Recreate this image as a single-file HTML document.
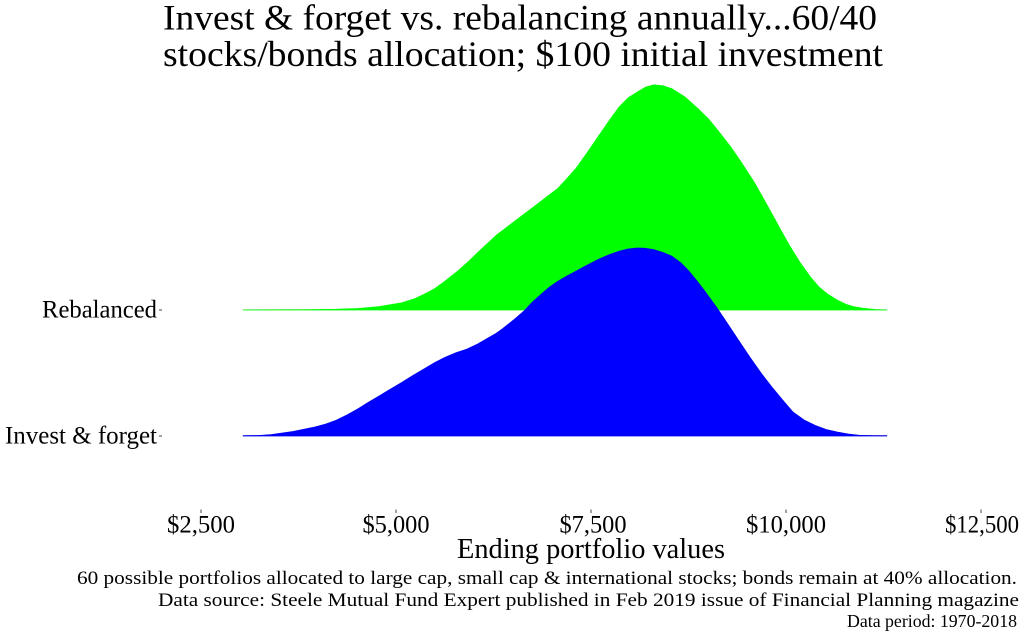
<!DOCTYPE html>
<html>
<head>
<meta charset="utf-8">
<style>
  html, body { margin:0; padding:0; background:#ffffff; }
  svg { display:block; }
  text { font-family: "Liberation Serif", "Times New Roman", serif; fill:#000; }
</style>
</head>
<body>
<svg width="1024" height="640" viewBox="0 0 1024 640" xmlns="http://www.w3.org/2000/svg">
  <rect x="0" y="0" width="1024" height="640" fill="#ffffff"/>

  <!-- Title -->
  <text x="163" y="29.5" font-size="36" textLength="714" lengthAdjust="spacingAndGlyphs">Invest &amp; forget vs. rebalancing annually...60/40</text>
  <text x="163" y="66" font-size="36" textLength="720" lengthAdjust="spacingAndGlyphs">stocks/bonds allocation; $100 initial investment</text>

  <!-- Rebalanced (green) ridge -->
  <line x1="243" y1="309.5" x2="887" y2="309.5" stroke="#e0e0e0" stroke-width="1"/>
  <polygon fill="#00ff00" stroke="#00ff00" stroke-width="0.8" stroke-linejoin="round"
    points="243,310 300,309.8 336,309.3 358,308.5 380,306.5 402,302.8 414,299 424,294.4 435,288.5 445,281.2 456,272.5 467,262.9 482,248.5 497,234.7 515,221 532,208.2 546,197.5 558,188.3 567,178.5 576,168.4 587,153 598,136.9 609,121 619,107.1 628,98 637,92.2 646,87 654,84.9 663,85.8 672,88.8 685,97 698,108.7 709,119.5 719,131.9 730,146 741,161.8 754,182 767,204.9 778,225 789,244.7 800,262.5 811,277.8 819,287 828,294.4 837,300 846,304.4 854,306.8 863,308.3 875,309.5 887,310"/>

  <!-- Invest & forget (blue) ridge -->
  <line x1="243" y1="435.5" x2="887" y2="435.5" stroke="#5555dd" stroke-width="1"/>
  <polygon fill="#0000ff" stroke="#0000f0" stroke-width="0.8" stroke-linejoin="round"
    points="243,436 257,435.6 271,434.7 293,431.5 315,427 326,424 336,420.4 347,415 358,408.8 369,402 380,395.5 391,388.8 402,382.3 413,375.5 424,369 435,362.5 445,357.4 456,352.8 467,349.1 478,343.8 489,337.5 496,333.5 502,329.2 513,320.5 524,311 532,302.5 541,294.4 549,287.5 558,281.2 567,276 576,271.2 587,265.2 598,259.6 609,254.8 619,251.3 628,249 637,248 645,248.3 654,249.7 663,252.5 672,256.3 681,263 689,271.2 697,281 706,292.8 717,308 728,324.3 739,341 750,357.4 761,373 772,387.3 783,400.5 793,412.1 804,420 815,425.4 826,429.5 837,432 848,434 859,435.3 873,435.9 887,436"/>

  <!-- Y axis labels and ticks -->
  <text x="157" y="317.5" font-size="25" text-anchor="end" textLength="115" lengthAdjust="spacingAndGlyphs">Rebalanced</text>
  <text x="157" y="443.5" font-size="25" text-anchor="end" textLength="152" lengthAdjust="spacingAndGlyphs">Invest &amp; forget</text>
  <line x1="159" y1="310" x2="162" y2="310" stroke="#444" stroke-width="1"/>
  <line x1="159" y1="436" x2="162" y2="436" stroke="#444" stroke-width="1"/>

  <!-- X axis ticks -->
  <g stroke="#444" stroke-width="1">
    <line x1="201" y1="509.5" x2="201" y2="513"/>
    <line x1="396" y1="509.5" x2="396" y2="513"/>
    <line x1="591" y1="509.5" x2="591" y2="513"/>
    <line x1="786" y1="509.5" x2="786" y2="513"/>
    <line x1="981" y1="509.5" x2="981" y2="513"/>
  </g>
  <g font-size="25" text-anchor="middle">
    <text x="201" y="532.5" textLength="68" lengthAdjust="spacingAndGlyphs">$2,500</text>
    <text x="396" y="532.5" textLength="67" lengthAdjust="spacingAndGlyphs">$5,000</text>
    <text x="593" y="532.5" textLength="67" lengthAdjust="spacingAndGlyphs">$7,500</text>
    <text x="786" y="532.5" textLength="80" lengthAdjust="spacingAndGlyphs">$10,000</text>
    <text x="982" y="532.5" textLength="74" lengthAdjust="spacingAndGlyphs">$12,500</text>
  </g>

  <!-- X axis title -->
  <text x="457" y="558" font-size="28" textLength="268" lengthAdjust="spacingAndGlyphs">Ending portfolio values</text>

  <!-- Caption -->
  <g text-anchor="end">
    <text x="1017" y="584" font-size="19" textLength="940" lengthAdjust="spacingAndGlyphs">60 possible portfolios allocated to large cap, small cap &amp; international stocks; bonds remain at 40% allocation.</text>
    <text x="1019" y="606" font-size="19" textLength="861" lengthAdjust="spacingAndGlyphs">Data source: Steele Mutual Fund Expert published in Feb 2019 issue of Financial Planning magazine</text>
    <text x="1017" y="627" font-size="18" textLength="170" lengthAdjust="spacingAndGlyphs">Data period: 1970-2018</text>
  </g>
</svg>
</body>
</html>
